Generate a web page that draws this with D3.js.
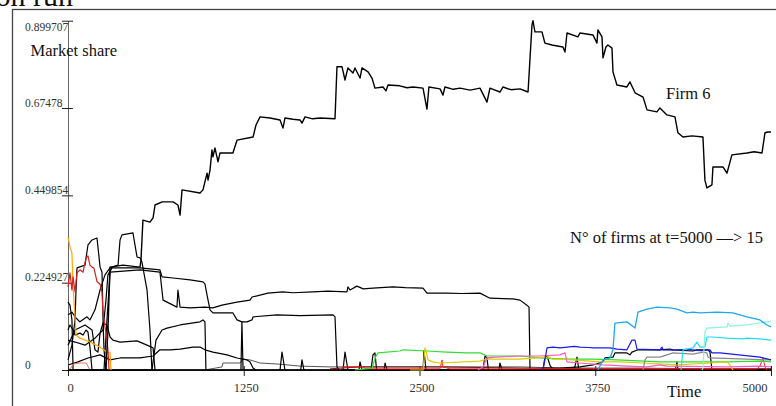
<!DOCTYPE html>
<html>
<head>
<meta charset="utf-8">
<script src="https://cdn.jsdelivr.net/npm/d3@7"></script>
<style>
  html, body { margin: 0; padding: 0; background: #fff; }
  svg { display: block; font-family: "Liberation Serif", "Times New Roman", serif; }
</style>
</head>
<body>
<svg id="chart" width="776" height="406"></svg>
<script>
// Market share of each firm over simulated time, [t, share] pairs
const xTicks = [0, 1250, 2500, 3750, 5000];
const yTicks = [0, 0.224927, 0.449854, 0.67478, 0.899707];

const firm6 = [
  [0,0],[270,0],[284,0.103],[299,0.265],[391,0.270],[512,0.265],[519,0.283],[533,0.386],[583,0.381],[605,0.392],
  [619,0.425],[669,0.433],[747,0.433],[782,0.425],[797,0.399],[811,0.464],[939,0.456],[960,0.464],[989,0.507],[996,0.489],
  [1010,0.515],[1024,0.567],[1031,0.549],[1045,0.572],[1067,0.536],[1081,0.559],[1173,0.559],[1202,0.592],[1316,0.600],[1337,0.631],
  [1366,0.652],[1437,0.649],[1508,0.644],[1529,0.623],[1543,0.649],[1600,0.646],[1650,0.644],[1664,0.636],[1686,0.652],[1740,0.647],
  [1792,0.649],[1899,0.647],[1913,0.781],[1949,0.781],[1970,0.747],[1991,0.778],[2027,0.765],[2041,0.778],[2077,0.752],[2091,0.778],
  [2134,0.768],[2162,0.752],[2183,0.726],[2240,0.729],[2262,0.719],[2276,0.734],[2361,0.732],[2410,0.727],[2454,0.729],[2525,0.726],
  [2553,0.672],[2567,0.729],[2646,0.724],[2667,0.708],[2681,0.729],[2740,0.723],[2788,0.726],[2860,0.721],[2930,0.726],[2980,0.690],
  [3001,0.726],[3072,0.716],[3094,0.729],[3150,0.722],[3215,0.724],[3272,0.716],[3300,0.889],[3307,0.8997],[3321,0.871],[3371,0.871],
  [3392,0.842],[3442,0.837],[3520,0.832],[3535,0.819],[3549,0.868],[3627,0.858],[3641,0.868],[3734,0.863],[3762,0.842],[3769,0.876],
  [3798,0.858],[3805,0.804],[3826,0.832],[3840,0.837],[3869,0.829],[3876,0.768],[3904,0.734],[3975,0.729],[3997,0.742],[4033,0.714],
  [4090,0.703],[4118,0.670],[4189,0.665],[4210,0.675],[4260,0.657],[4317,0.652],[4338,0.611],[4374,0.600],[4438,0.603],[4516,0.600],
  [4530,0.489],[4544,0.469],[4580,0.477],[4587,0.523],[4658,0.523],[4687,0.507],[4722,0.554],[4829,0.559],[4880,0.562],[4936,0.559],
  [4957,0.611],[4978,0.613],[5000,0.613]
];

const firmB = [
  [0,0],[256,0],[277,0.129],[299,0.252],[512,0.258],[654,0.252],[676,0.180],[775,0.162],[782,0.206],[797,0.162],
  [868,0.160],[974,0.162],[1031,0.160],[1095,0.167],[1202,0.175],[1294,0.180],[1309,0.188],[1422,0.198],[1529,0.201],[1600,0.199],
  [1742,0.201],[1850,0.203],[1984,0.201],[1991,0.214],[2006,0.206],[2055,0.216],[2100,0.209],[2169,0.211],[2311,0.214],[2400,0.212],
  [2525,0.211],[2553,0.198],[2695,0.198],[2800,0.197],[2930,0.198],[3001,0.185],[3165,0.183],[3215,0.180],[3264,0.167],[3279,0.162],
  [3286,0],[5000,0]
];

const firmC = [
  [0,0.077],[50,0.072],[121,0.064],[192,0.082],[249,0.103],[270,0.180],[284,0.245],[313,0.263],[512,0.263],[654,0.258],
  [669,0.240],[747,0.237],[868,0.232],[960,0.227],[974,0.222],[989,0.193],[1010,0.155],[1031,0.147],[1173,0.147],[1202,0.129],
  [1237,0.124],[1273,0.124],[1309,0.129],[1316,0.137],[1486,0.142],[1650,0.140],[1885,0.142],[1899,0.137],[1913,0.008],[1927,0],
  [5000,0]
];

const firmD = [[0,0.175],[14,0.167],[28,0.129],[36,0],[5000,0]];
const firmE = [
  [0,0.103],[14,0.116],[36,0.103],[50,0.090],[85,0.095],[107,0.090],[128,0.103],[142,0.098],[156,0.059],[171,0],[5000,0]
];
const firmF = [
  [0,0.026],[28,0.064],[50,0.129],[57,0.206],[64,0.263],[121,0.270],[142,0.322],[171,0.335],[206,0.340],[213,0.317],
  [228,0.265],[242,0.252],[249,0.129],[256,0.052],[270,0],[5000,0]
];
const firmG = [
  [0,0.064],[50,0.103],[121,0.116],[171,0.103],[192,0.052],[213,0.046],[228,0.095],[249,0.121],[277,0.116],[299,0.085],
  [320,0.077],[370,0.072],[491,0.075],[562,0.064],[605,0.057],[619,0]
];
const firmH = [
  [0,0.013],[71,0.021],[142,0.031],[228,0.039],[299,0.026],[370,0.031],[512,0.031],[605,0.036],[654,0.052],[725,0.052],
  [797,0.054],[889,0.059],[939,0.059],[974,0.052],[1031,0.046],[1131,0.039],[1202,0.031],[1273,0.026],[1294,0.021],[1316,0.005],
  [1337,0]
];
const firmI = [
  [0,0],[597,0],[626,0.077],[669,0.103],[704,0.108],[797,0.116],[939,0.124],[960,0.129],[974,0.124],[981,0]
];
const firmJ = [
  [0,0.142],[28,0.149],[57,0.134],[85,0.124],[135,0.137],[156,0.129],[192,0.155],[228,0.206],[263,0.245],[299,0.263],
  [356,0.270],[370,0.335],[384,0.348],[462,0.353],[491,0.291],[512,0.289],[526,0.278],[562,0.206],[583,0.103],[597,0]
];
const firmK = [
  [974,0],[1095,0.008],[1102,0.018],[1223,0.018],[1245,0.028],[1294,0.026],[1366,0.018],[1508,0.015],[1650,0.010],[1863,0.008],
  [2077,0.008],[2503,0.008],[3215,0.008],[3499,0.005],[4068,0.005],[4495,0.003],[5000,0.003]
];
const firmL = [
  [3357,0],[3378,0.005],[3499,0.005],[3641,0.008],[3734,0.013],[3805,0.021],[3819,0.031],[3876,0.033],[3890,0.044],[3975,0.044],
  [3997,0.039],[4011,0.046],[4054,0.052],[4210,0.052],[4281,0.054],[4303,0.052],[4445,0.049],[4473,0.052],[4552,0.052],[4566,0.046],
  [4580,0]
];

// short-lived entrants that rise and vanish again
const entrants = [
  [[1230,0],[1237,0.124],[1245,0]],
  [[1508,0],[1522,0.046],[1543,0]],
  [[1655,0],[1664,0.026],[1678,0]],
  [[1956,0],[1970,0.046],[1991,0]],
  [[2070,0],[2077,0.021],[2091,0]],
  [[2155,0],[2169,0.039],[2183,0.044],[2195,0]],
  [[2248,0],[2255,0.018],[2269,0]],
  [[2525,0],[2532,0.050],[2546,0]],
  [[2951,0],[2966,0.036],[2980,0.031],[2990,0]],
  [[3065,0],[3072,0.018],[3087,0]],
  [[3378,0],[3392,0.033],[3407,0.036],[3430,0.010],[3460,0]],
  [[3600,0],[3620,0.033],[3634,0]],
  [[4320,0],[4331,0.021],[4340,0]]
];

const firmRed = [
  [0,0.214],[14,0.250],[28,0.206],[36,0.240],[50,0.201],[64,0.250],[85,0.258],[107,0.252],[128,0.289],[142,0.294],
  [156,0.270],[171,0.265],[185,0.262],[206,0.228],[228,0.221],[242,0.200],[249,0.147],[263,0.111],[277,0.077],[284,0.052],
  [292,0]
];
const firmOrange = [
  [0,0.343],[14,0.317],[28,0.301],[36,0.214],[50,0.137],[57,0.090],[85,0.082],[156,0.072],[228,0.059],[277,0.046],
  [299,0.044],[306,0]
];
const firmSalmon = [[0,0],[21,0.005],[36,0.015],[85,0.018],[128,0.018],[142,0.010],[156,0]];
const firmRedLate = [
  [1934,0],[1956,0.008],[2098,0.008],[2119,0.003],[2646,0.003],[2660,0.026],[2667,0.008],[2717,0.003],[4900,0.003],[4921,0.010],
  [4943,0.031],[4957,0.008],[4971,0]
];
const firmMaroon = [[1863,0.003],[2077,0.008],[2646,0.008],[3215,0.005],[3784,0.003],[5000,0.003]];
const firmGreen = [
  [2041,0],[2162,0.005],[2190,0.036],[2205,0.044],[2361,0.049],[2383,0.052],[2553,0.049],[2695,0.046],[2838,0.044],[2930,0.044],
  [2980,0.036],[3215,0.036],[3357,0.031],[3549,0.028],[3734,0.028],[3904,0.026],[4210,0.021],[4687,0.021],[4921,0.023],[5000,0.021]
];
const firmYellow = [
  [2432,0],[2525,0],[2539,0.057],[2553,0.039],[2560,0.026],[2596,0.021],[2646,0.018],[2930,0.023],[2980,0.028],[3215,0.028],
  [3407,0.033],[3414,0.036],[3442,0.028],[3520,0.028],[3712,0.023],[3784,0.021],[3926,0.021],[4090,0.018],[4331,0.013],[4566,0.018],
  [4687,0.021],[4708,0.013],[4729,0]
];
const firmPink = [
  [2916,0],[2951,0.008],[2980,0.031],[3037,0.033],[3215,0.036],[3357,0.036],[3499,0.039],[3535,0.044],[3549,0.021],[3641,0.018],
  [3805,0.013],[3975,0.010],[4118,0.008],[4210,0.013],[4260,0.010],[4687,0.008],[4921,0.010],[5000,0.008]
];
const firmBlue = [
  [3378,0],[3392,0.026],[3407,0.057],[3449,0.059],[3500,0.057],[3600,0.061],[3641,0.059],[3700,0.058],[3734,0.057],[3855,0.057],
  [3904,0.054],[3975,0.052],[4011,0.077],[4033,0.077],[4047,0.054],[4210,0.052],[4225,0.059],[4232,0.052],[4300,0.051],[4400,0.053],
  [4500,0.050],[4566,0.052],[4580,0.044],[4637,0.044],[4921,0.033],[5000,0.026]
];
const firmGray = [
  [4090,0],[4104,0.026],[4118,0.033],[4210,0.033],[4260,0.039],[4303,0.044],[4445,0.041],[4516,0.046],[4544,0.044],[4552,0.033],
  [4566,0.031],[4829,0.028],[4971,0.026],[5000,0.026]
];
const firmSky = [
  [3769,0],[3805,0.026],[3855,0.031],[3876,0.052],[3890,0.121],[3975,0.124],[4033,0.108],[4054,0.149],[4118,0.157],[4189,0.162],
  [4281,0.160],[4331,0.157],[4402,0.147],[4445,0.149],[4495,0.147],[4615,0.149],[4729,0.147],[4829,0.137],[4921,0.129],[4971,0.116],
  [5000,0.111]
];
const firmAqua = [
  [4509,0],[4516,0.005],[4530,0.098],[4544,0.108],[4687,0.111],[4694,0.121],[4708,0.113],[4829,0.116],[4921,0.121],[4971,0.124],
  [5000,0.126]
];
const firmCyan = [
  [4360,0],[4374,0.052],[4445,0.057],[4473,0.072],[4495,0.059],[4530,0.059],[4544,0.085],[4587,0.085],[4687,0.082],[4800,0.080],
  [4829,0.082],[4921,0.080],[5000,0.077]
];

// line styles, drawn in this order
const series = [
  { data: firmK, color: "#555", width: 1 },
  { data: firmD, color: "#000", width: 1.2 },
  { data: firmE, color: "#000", width: 1.2 },
  { data: firmF, color: "#000", width: 1.2 },
  { data: firmG, color: "#000", width: 1.2 },
  { data: firmH, color: "#000", width: 1.2 },
  { data: firmI, color: "#000", width: 1.2 },
  { data: firmJ, color: "#000", width: 1.2 },
  { data: firmC, color: "#000", width: 1.2 },
  { data: firmB, color: "#000", width: 1.2 },
  { data: firmL, color: "#000", width: 1.2 },
  ...entrants.map(d => ({ data: d, color: "#000", width: 1.2 })),
  { data: firmMaroon, color: "#7a1010", width: 1 },
  { data: firmSalmon, color: "#f07850", width: 1 },
  { data: firmOrange, color: "#ffa500", width: 1.2 },
  { data: firmRed, color: "#d42020", width: 1.2 },
  { data: firmRedLate, color: "#ff2020", width: 1 },
  { data: firmGreen, color: "#2ee02e", width: 1.2 },
  { data: firmYellow, color: "#d8cc00", width: 1.2 },
  { data: firmPink, color: "#ff5cc0", width: 1.2 },
  { data: firmGray, color: "#8a8a8a", width: 1.2 },
  { data: firmBlue, color: "#1a1ae6", width: 1.2 },
  { data: firmCyan, color: "#22dcf0", width: 1.2 },
  { data: firmAqua, color: "#8cf5d8", width: 1.2 },
  { data: firmSky, color: "#1ea8f0", width: 1.3 },
  { data: firm6, color: "#000", width: 1.4 }
];

const svg = d3.select("#chart");
const x = d3.scaleLinear().domain([0, 5000]).range([68, 771]);
const y = d3.scaleLinear().domain([0, 0.899707]).range([370, 20.7]);

// title, partly outside the frame
svg.append("text").attr("x", -4.5).attr("y", 6)
  .attr("font-size", 30).attr("fill", "#111").text("on run");

// frame
svg.append("rect").attr("x", 12.5).attr("y", 9.5).attr("width", 820).attr("height", 430)
  .attr("fill", "none").attr("stroke", "#444").attr("stroke-width", 1.3);

// axes
const yAxis = svg.append("g").attr("transform", "translate(68,0)")
  .call(d3.axisLeft(y).tickValues(yTicks).tickSizeOuter(0)
    .tickFormat(d => d === 0 ? "0" : String(d)));
yAxis.select(".domain").attr("stroke", "#666");
yAxis.selectAll(".tick line").attr("x1", 5).attr("x2", -6).attr("stroke", "#222");
yAxis.selectAll(".tick text")
  .attr("x", -43).attr("text-anchor", "start").attr("dy", 0)
  .attr("y", d => d === yTicks[yTicks.length - 1] ? 9.3 : -2)
  .attr("font-size", 11.5).attr("font-family", "Liberation Serif, serif").attr("fill", "#333");

const xAxis = svg.append("g").attr("transform", "translate(0,370)")
  .call(d3.axisBottom(x).tickValues(xTicks).tickSizeOuter(0).tickFormat(d3.format("d")));
xAxis.select(".domain").attr("stroke", "#666");
xAxis.selectAll(".tick line").attr("y1", -4).attr("y2", 6).attr("stroke", "#222");
xAxis.selectAll(".tick text")
  .attr("y", 22).attr("dy", 0)
  .attr("dx", d => d === 5000 ? -4 : 2)
  .attr("text-anchor", d => d === 5000 ? "end" : "middle")
  .attr("font-size", 12.5).attr("font-family", "Liberation Serif, serif").attr("fill", "#333");

// series lines
const line = d3.line().x(d => x(d[0])).y(d => y(d[1]));
svg.append("g").selectAll("path").data(series).join("path")
  .attr("d", s => line(s.data))
  .attr("fill", "none")
  .attr("stroke", s => s.color)
  .attr("stroke-width", s => s.width)
  .attr("stroke-linejoin", "round");

// annotations
const note = (tx, ty, str) => svg.append("text").attr("x", tx).attr("y", ty)
  .attr("font-size", 16.5).attr("fill", "#111").text(str);
note(30.5, 56, "Market share");
note(666, 99, "Firm 6");
note(570, 243, "N° of firms at t=5000 ––> 15");
note(667, 396.5, "Time");
</script>
</body>
</html>
